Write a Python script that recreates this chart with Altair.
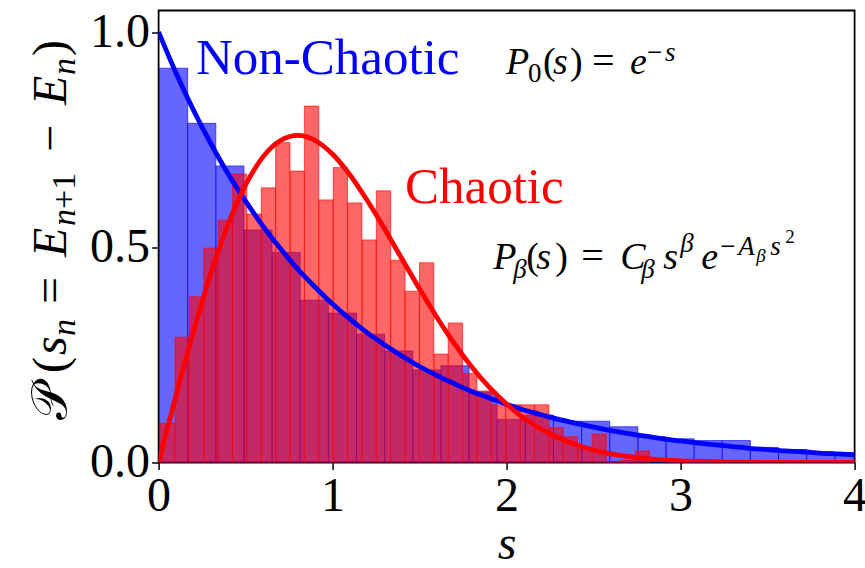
import altair as alt
import pandas as pd

# ---------------------------------------------------------------- data
# Level-spacing histograms (normalised densities), regular bins
blue_start, blue_width = 0.0055, 0.1617
blue_density = [0.916, 0.788, 0.689, 0.540, 0.488, 0.377, 0.347, 0.298, 0.259, 0.215,
                0.225, 0.164, 0.100, 0.110, 0.096, 0.096, 0.083, 0.060, 0.055, 0.051,
                0.051, 0.035, 0.030, 0.025, 0.020]

red_start, red_width = 0.0114, 0.08265
red_density = [0.091, 0.291, 0.385, 0.498, 0.563, 0.670, 0.577, 0.638, 0.743, 0.677,
               0.828, 0.610, 0.685, 0.603, 0.517, 0.631, 0.470, 0.398, 0.464, 0.252,
               0.324, 0.207, 0.166, 0.134, 0.134, 0.134, 0.134, 0.081, 0.060, 0.034,
               0.066, 0.000, 0.006, 0.027]

# Reference curves: Poisson P0(s) and Wigner-type P_beta(s)
curve_s = [0.0, 0.1, 0.2, 0.3, 0.4, 0.5, 0.6, 0.7, 0.8, 0.9, 1.0, 1.1, 1.2, 1.3, 1.4,
           1.5, 1.6, 1.7, 1.8, 1.9, 2.0, 2.1, 2.2, 2.3, 2.4, 2.5, 2.6, 2.7, 2.8, 2.9,
           3.0, 3.1, 3.2, 3.3, 3.4, 3.5, 3.6, 3.7, 3.8, 3.9, 4.0]
poisson = [1.000, 0.905, 0.819, 0.741, 0.670, 0.607, 0.549, 0.497, 0.449, 0.407,
           0.368, 0.333, 0.301, 0.273, 0.247, 0.223, 0.202, 0.183, 0.165, 0.150,
           0.135, 0.122, 0.111, 0.100, 0.091, 0.082, 0.074, 0.067, 0.061, 0.055,
           0.050, 0.045, 0.041, 0.037, 0.033, 0.030, 0.027, 0.025, 0.022, 0.020, 0.018]
wigner = [0.000, 0.156, 0.304, 0.439, 0.554, 0.645, 0.710, 0.748, 0.760, 0.748,
          0.716, 0.668, 0.608, 0.542, 0.472, 0.403, 0.337, 0.276, 0.222, 0.175,
          0.136, 0.103, 0.077, 0.057, 0.041, 0.029, 0.020, 0.014, 0.009, 0.006,
          0.004, 0.003, 0.002, 0.001, 0.001, 0.000, 0.000, 0.000, 0.000, 0.000, 0.000]

# ---------------------------------------------------------------- layout
W, H = 696, 452
PAD_L, PAD_T = 158.6, 10.5
S_MAX, P_MAX = 4.0, 1.05
SERIF = "Liberation Serif"


def to_data(px, py):
    """Convert a pixel offset inside the plot area to (s, P) coordinates."""
    return px * S_MAX / W, (H - py) * P_MAX / H


def bins(start, width, heights):
    return pd.DataFrame({
        "lo": [start + i * width for i in range(len(heights))],
        "hi": [start + (i + 1) * width for i in range(len(heights))],
        "h": heights,
    })


blue_df = bins(blue_start, blue_width, blue_density)
red_df = bins(red_start, red_width, red_density)
curves = pd.DataFrame({"s": curve_s, "poisson": poisson, "wigner": wigner})

xs = alt.Scale(domain=[0, S_MAX], nice=False, zero=False)
ys = alt.Scale(domain=[0, P_MAX], nice=False, zero=False)

x_axis = alt.Axis(values=[0, 1, 2, 3, 4], format="d", grid=False, domain=False,
                  labelFont=SERIF, labelFontSize=48, labelColor="black",
                  labelFlush=False, labelOverlap=False, labelBound=False,
                  labelPadding=3, tickColor="black", tickSize=7, tickWidth=1.5,
                  title="s", titleFont=SERIF, titleFontSize=48,
                  titleFontStyle="italic", titleFontWeight="normal",
                  titleColor="black", titlePadding=0)
y_axis = alt.Axis(values=[0, 0.5, 1.0], format=".1f", grid=False, domain=False,
                  labelFont=SERIF, labelFontSize=48, labelColor="black",
                  labelFlush=False, labelOverlap=False, labelBound=False,
                  labelPadding=2, tickColor="black", tickSize=7, tickWidth=1.5,
                  title=None)


def X(field):
    return alt.X(field, scale=xs, axis=x_axis)


def Y(field):
    return alt.Y(field, scale=ys, axis=y_axis)


def hist_layer(df, colour):
    return alt.Chart(df).mark_rect(
        fill=colour, fillOpacity=0.6, stroke=colour, strokeOpacity=0.6,
        strokeWidth=1, clip=True
    ).encode(x=X("lo:Q"), x2="hi:Q", y=Y("h:Q"), y2=alt.datum(0))


def curve_layer(field, colour):
    return alt.Chart(curves).mark_line(
        color=colour, strokeWidth=4.8, interpolate="monotone", clip=True
    ).encode(x=X("s:Q"), y=Y(f"{field}:Q"))


# ---------------------------------------------------------------- text
def formula(anchor_px, anchor_py, parts, angle=0):
    """parts: (text, along_px, across_px, size, italic); along follows the
    reading direction, across points to the subscript side."""
    rows = []
    for text, along, across, size, italic in parts:
        if angle == 0:
            px, py = anchor_px + along, anchor_py + across
        else:  # reading upwards
            px, py = anchor_px + across, anchor_py - along
        s, p = to_data(px, py)
        rows.append({"s": s, "p": p, "t": text, "size": size,
                     "style": "italic" if italic else "normal", "angle": angle})
    return rows


rows = []
# P0(s) = e^{-s}
rows += formula(506 - PAD_L, 74 - PAD_T, [
    ("P", 0, 0, 38, True), ("0", 22, 8, 27, False), ("(", 37, 0, 38, False),
    ("s", 47, 0, 38, True), (")", 64, 0, 38, False), ("=", 86, 0, 40, False),
    ("e", 124, 0, 38, True), ("\u2212", 141, -13, 27, False), ("s", 159, -13, 27, True),
])
# P_beta(s) = C_beta s^beta e^{-A_beta s^2}
rows += formula(493.3 - PAD_L, 269.3 - PAD_T, [
    ("P", 0, 0, 38, True), ("\u03b2", 20, 9, 27, True), ("(", 33, 0, 38, False),
    ("s", 43, 0, 38, True), (")", 62, 0, 38, False), ("=", 88, 0, 40, False),
    ("C", 127, 0, 38, True), ("\u03b2", 148, 9, 27, True), ("s", 170, 0, 38, True),
    ("\u03b2", 187, -17, 27, True), ("e", 208, 0, 38, True),
    ("\u2212", 227, -14, 27, False), ("A", 245, -14, 27, True),
    ("\u03b2", 263, -7, 19, True), ("s", 277, -14, 27, True), ("2", 292, -26, 19, False),
])
# vertical axis title  P(s_n = E_{n+1} - E_n)
rows += formula(66 - PAD_L, 420 - PAD_T, [
    ("\U0001D4AB", 0, 0, 50, False), ("(", 47, 0, 48, False), ("s", 65, 0, 48, True),
    ("n", 84, 9, 34, True), ("=", 116, 0, 48, False), ("E", 163, 0, 48, True),
    ("n", 194, 9, 34, True), ("+1", 211, 9, 34, False), ("\u2212", 268, 0, 48, False),
    ("E", 315, 0, 48, True), ("n", 345, 9, 34, True), (")", 364, 0, 48, False),
], angle=270)
math_df = pd.DataFrame(rows)


def text_layer(df, style, angle):
    sub = df[(df["style"] == style) & (df["angle"] == angle)]
    return alt.Chart(sub).mark_text(
        font=SERIF, fontStyle=style, align="left", baseline="alphabetic",
        color="black", angle=angle
    ).encode(
        x=X("s:Q"), y=Y("p:Q"), text="t:N",
        size=alt.Size("size:Q", scale=None, legend=None),
    )


labels = pd.DataFrame({
    "s": [to_data(196 - PAD_L, 0)[0], to_data(405 - PAD_L, 0)[0]],
    "p": [to_data(0, 74 - PAD_T)[1], to_data(0, 203 - PAD_T)[1]],
    "t": ["Non-Chaotic", "Chaotic"],
    "c": ["#0000ff", "#ff0000"],
})
label_layer = alt.Chart(labels).mark_text(
    font=SERIF, fontSize=51, align="left", baseline="alphabetic"
).encode(
    x=X("s:Q"), y=Y("p:Q"), text="t:N",
    color=alt.Color("c:N", scale=None, legend=None),
)

chart = alt.layer(
    hist_layer(blue_df, "#0000ff"),
    hist_layer(red_df, "#ff0000"),
    curve_layer("poisson", "#0000ff"),
    curve_layer("wigner", "#ff0000"),
    label_layer,
    text_layer(math_df, "italic", 0),
    text_layer(math_df, "normal", 0),
    text_layer(math_df, "italic", 270),
    text_layer(math_df, "normal", 270),
).properties(
    width=W, height=H,
    background="white",
    autosize=alt.AutoSizeParams(type="none"),
    padding={"left": PAD_L, "top": PAD_T, "right": 865 - PAD_L - W, "bottom": 568 - PAD_T - H},
).configure_view(
    stroke="black", strokeWidth=1.8
)

chart.save("out.html", embed_options={"renderer": "svg", "actions": False})
